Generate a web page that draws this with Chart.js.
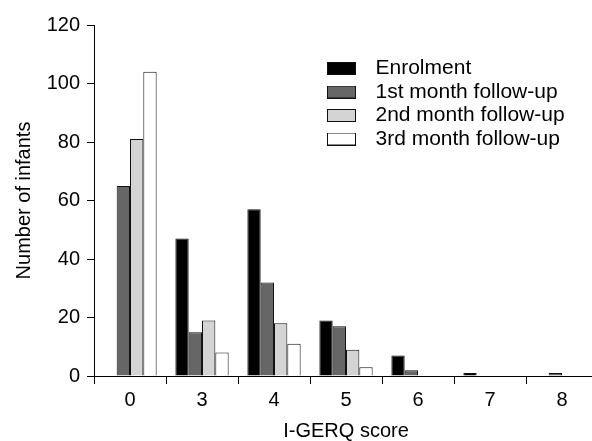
<!DOCTYPE html>
<html>
<head>
<meta charset="utf-8">
<script src="https://cdn.jsdelivr.net/npm/chart.js@4"></script>
<style>
  html, body { margin: 0; padding: 0; background: #fff; overflow: hidden; }
</style>
</head>
<body>
<canvas id="chart" width="600" height="441"></canvas>
<script>
// Chart data
const scores = ['0', '3', '4', '5', '6', '7', '8'];
const enrolment = [0, 47, 57, 19, 7, 1, 0];
const month1 = [65, 15, 32, 17, 2, 0, 1];
const month2 = [81, 19, 18, 9, 0, 0, 0];
const month3 = [104, 8, 11, 3, 0, 0, 0];
const yTicks = [0, 20, 40, 60, 80, 100, 120];

const seriesNames = ['Enrolment', '1st month follow-up', '2nd month follow-up', '3rd month follow-up'];
const seriesFills = ['#000000', '#666666', '#d4d4d4', '#ffffff'];

Chart.defaults.font.family = "'Liberation Sans', Arial, sans-serif";
Chart.defaults.color = '#000';

// Small legend swatch drawn as an image
function swatch(fill) {
  const c = document.createElement('canvas');
  c.width = 29;
  c.height = 13;
  const g = c.getContext('2d');
  g.fillStyle = fill;
  g.fillRect(0, 0, 29, 13);
  g.strokeStyle = '#111';
  g.lineWidth = 1;
  g.strokeRect(0.5, 0.5, 28, 12);
  return c;
}
const swatches = seriesFills.map(swatch);

// Move legend inside the plot, upper right
const legendSpot = {
  id: 'legendSpot',
  afterLayout(chart) {
    chart.legend.left = 315.5;
    chart.legend.top = 55.5;
  }
};

const datasets = [enrolment, month1, month2, month3].map((values, i) => ({
  label: seriesNames[i],
  data: values,
  backgroundColor: seriesFills[i],
  borderColor: '#111',
  borderWidth: 1,
  categoryPercentage: 0.74,
  barPercentage: 1.0
}));

new Chart(document.getElementById('chart'), {
  type: 'bar',
  data: { labels: scores, datasets },
  plugins: [legendSpot],
  options: {
    responsive: false,
    devicePixelRatio: 1,
    animation: false,
    layout: { padding: { top: 25, right: 2, left: 0, bottom: 0 } },
    plugins: {
      tooltip: { enabled: false },
      legend: {
        position: 'chartArea',
        align: 'start',
        labels: {
          usePointStyle: true,
          pointStyleWidth: 47,
          boxHeight: 13,
          padding: 2.5,
          color: '#000',
          font: { size: 21 },
          generateLabels(chart) {
            const items = Chart.defaults.plugins.legend.labels.generateLabels(chart);
            items.forEach((it, i) => { it.pointStyle = swatches[i]; });
            return items;
          }
        }
      }
    },
    scales: {
      x: {
        grid: { drawOnChartArea: false, tickLength: 8, color: '#000', offset: true },
        border: { color: '#000', width: 1 },
        ticks: { color: '#000', font: { size: 20 }, padding: 4 },
        title: {
          display: true,
          text: 'I-GERQ score',
          color: '#000',
          font: { size: 20, lineHeight: 1 },
          padding: { top: 0, bottom: 0 }
        },
        afterFit(s) { s.height = 65; }
      },
      y: {
        min: 0,
        max: 120,
        grid: { drawOnChartArea: false, tickLength: 7, color: '#000' },
        border: { color: '#000', width: 1 },
        ticks: { stepSize: 20, color: '#000', font: { size: 20 }, padding: 7 },
        afterBuildTicks(s) { s.ticks = yTicks.map(v => ({ value: v })); },
        title: {
          display: true,
          text: 'Number of infants',
          color: '#000',
          font: { size: 20, lineHeight: 1 },
          padding: { top: 14 }
        },
        afterFit(s) { s.width = 94; }
      }
    }
  }
});
</script>
</body>
</html>
